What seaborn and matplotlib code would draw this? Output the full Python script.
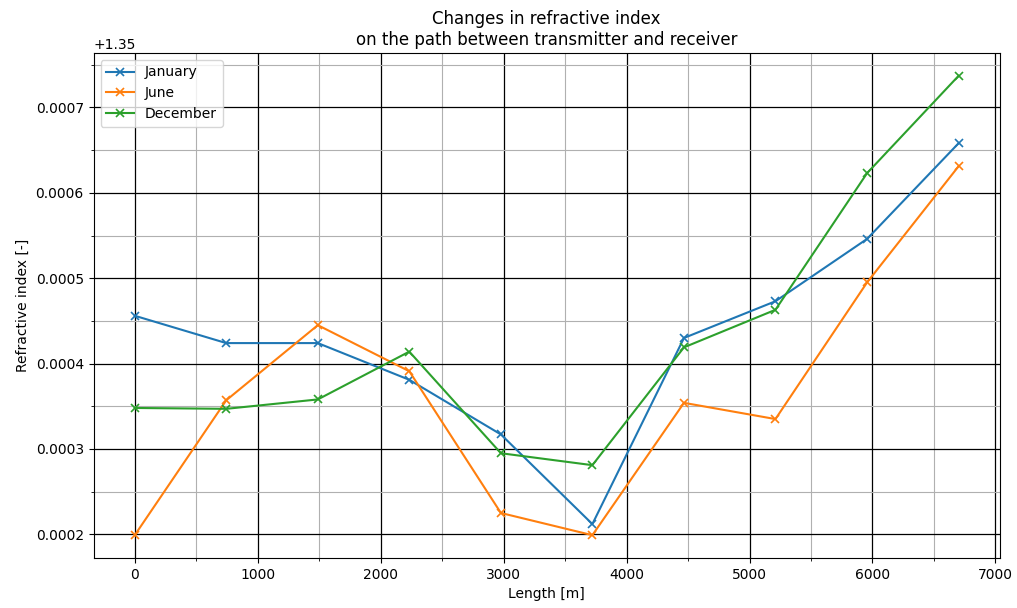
import numpy as np
import pandas as pd
import seaborn as sns
import matplotlib.pyplot as plt
from matplotlib.ticker import MultipleLocator

length = [0, 744, 1489, 2233, 2978, 3722, 4467, 5211, 5956, 6700]
n_january = [1.350456, 1.350424, 1.350424, 1.350381, 1.350317, 1.350212,
             1.350430, 1.350473, 1.350546, 1.350658]
n_june = [1.350199, 1.350357, 1.350445, 1.350391, 1.350225, 1.350199,
          1.350354, 1.350335, 1.350495, 1.350631]
n_december = [1.350348, 1.350347, 1.350358, 1.350414, 1.350295, 1.350281,
              1.350419, 1.350463, 1.350623, 1.350737]
months = ["January", "June", "December"]

df = pd.DataFrame({"Length": length * 3,
                   "n": n_january + n_june + n_december,
                   "Month": np.repeat(months, len(length))})

fig, ax = plt.subplots(figsize=(10.17, 6.08), dpi=100)

colors = ["#1f77b4", "#ff7f0e", "#2ca02c"]
for month, c in zip(months, colors):
    sub = df[df["Month"] == month]
    sns.lineplot(data=sub, x="Length", y="n", ax=ax, color=c, marker="x",
                 markersize=6, markeredgecolor=c, markeredgewidth=1.2,
                 linewidth=1.5, label=month)

ax.xaxis.set_major_locator(MultipleLocator(1000))
ax.xaxis.set_minor_locator(MultipleLocator(500))
ax.yaxis.set_minor_locator(MultipleLocator(0.00005))
ax.grid(which="major", color="black", linewidth=0.9)
ax.grid(which="minor", color="#b0b0b0", linewidth=0.8)

ax.set_title("Changes in refractive index\non the path between transmitter and receiver")
ax.set_xlabel("Length [m]")
ax.set_ylabel("Refractive index [-]")
ax.legend(loc="upper left")

fig.subplots_adjust(left=0.092, right=0.983, top=0.913, bottom=0.082)
plt.savefig("out.png", dpi=100)
